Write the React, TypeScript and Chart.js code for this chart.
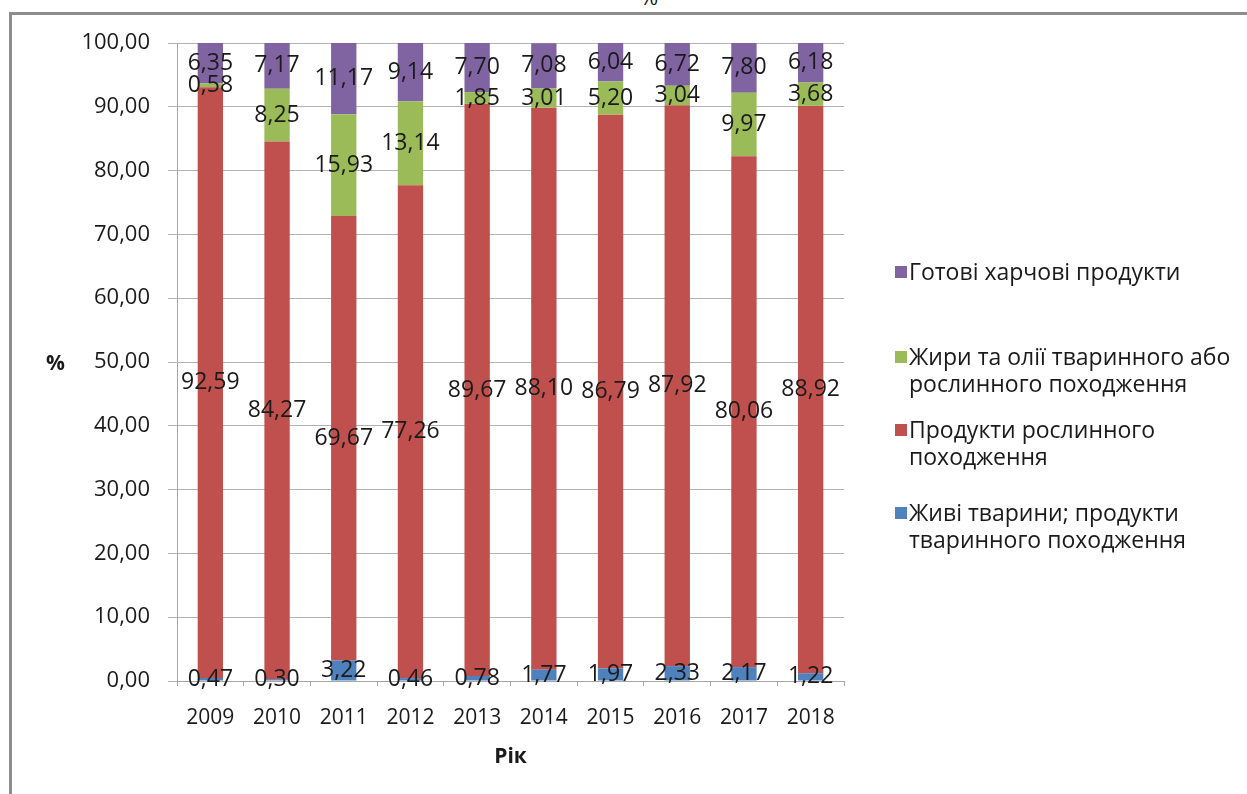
import React, { useEffect, useRef } from "react";
import { Chart, registerables } from "chart.js";

Chart.register(...registerables);

const years = ["2009", "2010", "2011", "2012", "2013", "2014", "2015", "2016", "2017", "2018"];
const liveAnimals = [0.47, 0.3, 3.22, 0.46, 0.78, 1.77, 1.97, 2.33, 2.17, 1.22];
const plantProducts = [92.59, 84.27, 69.67, 77.26, 89.67, 88.1, 86.79, 87.92, 80.06, 88.92];
const fatsOils = [0.58, 8.25, 15.93, 13.14, 1.85, 3.01, 5.2, 3.04, 9.97, 3.68];
const preparedFood = [6.35, 7.17, 11.17, 9.14, 7.7, 7.08, 6.04, 6.72, 7.8, 6.18];

const seriesNames = [
  "Живі тварини; продукти тваринного походження",
  "Продукти рослинного походження",
  "Жири та олії тваринного або рослинного походження",
  "Готові харчові продукти",
];
const legendLines = [
  ["Готові харчові продукти"],
  ["Жири та олії тваринного або", "рослинного походження"],
  ["Продукти рослинного", "походження"],
  ["Живі тварини; продукти", "тваринного походження"],
];
const colors = ["#4F81BD", "#C0504D", "#9BBB59", "#8064A2"];
const legendColors = ["#8064A2", "#9BBB59", "#C0504D", "#4F81BD"];
const legendTops = [272, 357, 430, 513];

const FONT = "'Open Sans', Lato, sans-serif";
const fmt = (v: number) => v.toFixed(2).replace(".", ",");

const dataLabels = {
  id: "dataLabels",
  afterDatasetsDraw(chart: any) {
    const ctx = chart.ctx;
    ctx.save();
    ctx.font = `23px ${FONT}`;
    ctx.fillStyle = "#1a1a1a";
    ctx.textAlign = "center";
    ctx.textBaseline = "middle";
    chart.data.datasets.forEach((ds: any, i: number) => {
      const meta = chart.getDatasetMeta(i);
      meta.data.forEach((el: any, j: number) => {
        const cy = (el.y + el.base) / 2;
        ctx.fillText(fmt(ds.data[j]), el.x, cy);
      });
    });
    ctx.restore();
  },
};

export default function App() {
  const ref = useRef<HTMLCanvasElement>(null);
  useEffect(() => {
    const series = [liveAnimals, plantProducts, fatsOils, preparedFood];
    const chart = new Chart(ref.current!, {
      type: "bar",
      data: {
        labels: years,
        datasets: series.map((d, i) => ({
          label: seriesNames[i],
          data: d,
          backgroundColor: colors[i],
          barPercentage: 0.38,
          categoryPercentage: 1,
        })),
      },
      options: {
        responsive: false,
        animation: false,
        layout: { padding: { left: 0, right: 403, top: 43, bottom: 8 } },
        plugins: { legend: { display: false }, tooltip: { enabled: false } },
        scales: {
          x: {
            stacked: true,
            afterFit: (s: any) => {
              s.height = 105;
            },
            grid: {
              display: true,
              drawOnChartArea: false,
              drawTicks: true,
              tickLength: 5,
              color: "#a6a6a6",
              offset: true,
            },
            border: { color: "#a6a6a6", width: 1 },
            ticks: { color: "#1a1a1a", font: { family: FONT, size: 21 }, padding: 19, maxRotation: 0 },
            title: {
              display: true,
              text: "Рік",
              color: "#1a1a1a",
              font: { family: FONT, size: 21, weight: "bold" },
              padding: { top: 0, bottom: 16 },
            },
          },
          y: {
            stacked: true,
            min: 0,
            max: 100,
            afterFit: (s: any) => {
              s.width = 177;
            },
            grid: { color: "#b3b3b3", tickLength: 9 },
            border: { color: "#a6a6a6", width: 1 },
            ticks: {
              stepSize: 10,
              color: "#1a1a1a",
              font: { family: FONT, size: 22 },
              padding: 18,
              callback: (v: any) => fmt(Number(v)),
            },
          },
        },
      },
      plugins: [dataLabels],
    });
    return () => chart.destroy();
  }, []);

  return (
    <div style={{ position: "fixed", left: 0, top: 0, width: 1247, height: 794, overflow: "hidden", background: "#fff", fontFamily: FONT }}>
      <div
        style={{
          position: "absolute",
          left: 9,
          top: 12,
          width: 1300,
          height: 900,
          borderTop: "3px solid #8c8c8c",
          borderLeft: "3px solid #8c8c8c",
        }}
      />
      <div style={{ position: "absolute", left: 640, top: -15, fontSize: 22, color: "#1a1a1a", lineHeight: "22px" }}>%</div>
      <canvas ref={ref} width={1247} height={794} style={{ position: "absolute", left: 0, top: 0 }} />
      <div style={{ position: "absolute", left: 46, top: 349, fontSize: 21, fontWeight: "bold", color: "#1a1a1a", lineHeight: "26px" }}>%</div>
      {legendLines.map((lines, i) => (
        <div key={i} style={{ position: "absolute", left: 890, top: legendTops[i] - 14 }}>
          <div
            style={{
              position: "absolute",
              left: 5,
              top: 8,
              width: 12,
              height: 12,
              background: legendColors[i],
            }}
          />
          {lines.map((t, k) => (
            <div key={k} style={{ position: "absolute", left: 19, top: k * 27, whiteSpace: "nowrap", fontSize: 23, lineHeight: "27px", color: "#1a1a1a" }}>
              {t}
            </div>
          ))}
        </div>
      ))}
    </div>
  );
}
